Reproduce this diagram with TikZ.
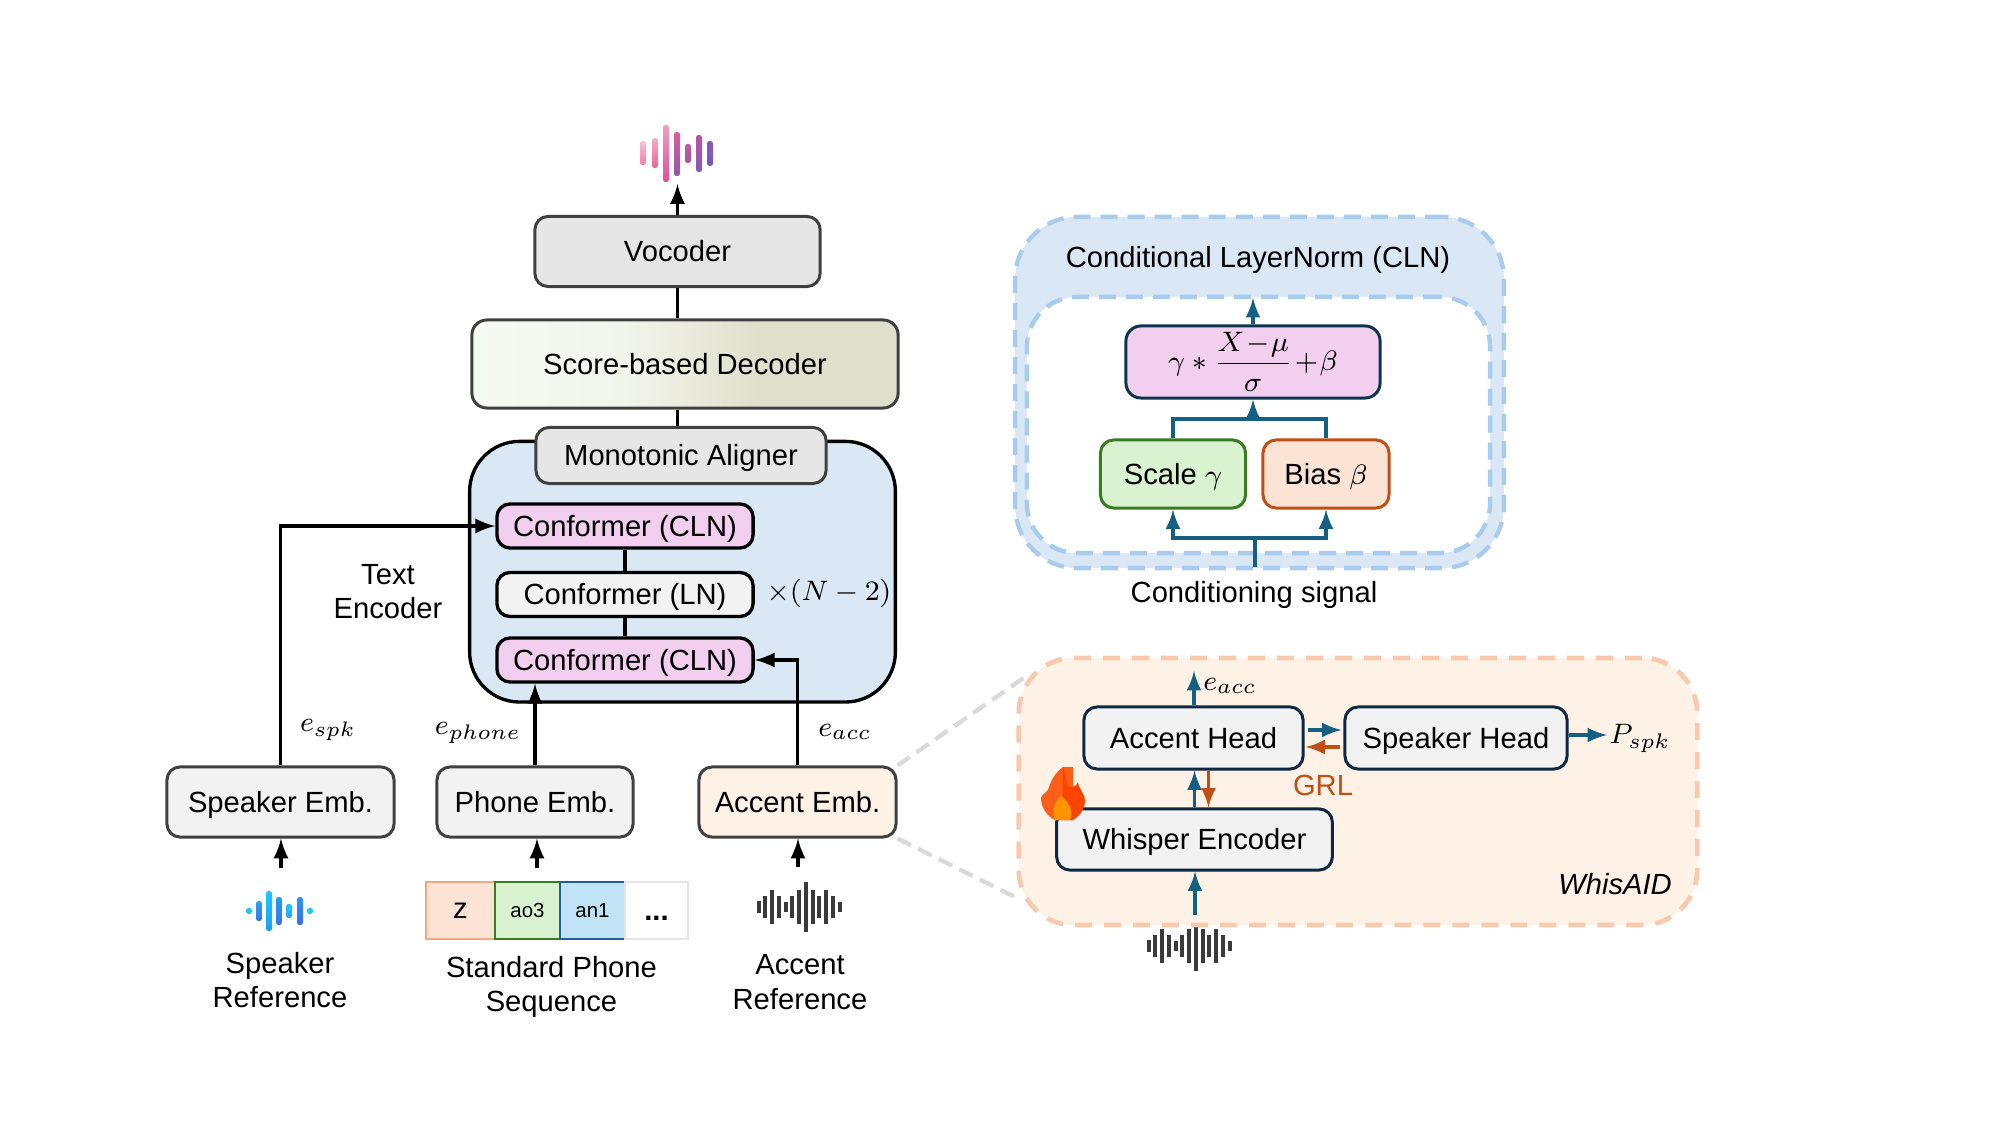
\documentclass[tikz,border=0pt]{standalone}
\usepackage[no-math]{fontspec}
\usepackage{amsmath}
\setmainfont{Liberation Sans}
\usepackage{xcolor}
\usepackage{tikz}
\usetikzlibrary{arrows}
\usetikzlibrary{calc}
\definecolor{panelblue}{HTML}{DAE8F6}
\definecolor{dashblue}{HTML}{A9CCEE}
\definecolor{panelpeach}{HTML}{FEF2E7}
\definecolor{dashpeach}{HTML}{F8C9AE}
\definecolor{pinkfill}{HTML}{F2CEEF}
\definecolor{greyfill}{HTML}{F2F2F2}
\definecolor{midgrey}{HTML}{E6E6E6}
\definecolor{edgegrey}{HTML}{404040}
\definecolor{tealink}{HTML}{156082}
\definecolor{navy}{HTML}{0E2841}
\definecolor{greenfill}{HTML}{D9F2D0}
\definecolor{greenedge}{HTML}{3A7C22}
\definecolor{orangefill}{HTML}{FBE3D6}
\definecolor{orangeedge}{HTML}{C04F15}
\definecolor{zedge}{HTML}{F1A983}
\definecolor{bluefill}{HTML}{C0E4F5}
\definecolor{blueedge}{HTML}{215F9A}
\definecolor{waveink}{HTML}{3A3A3A}
\definecolor{decleft}{HTML}{F5FAF3}
\definecolor{decmid}{HTML}{F2F5EC}
\definecolor{decright}{HTML}{E0DFCB}
\pgfdeclarehorizontalshading{decodershade}{100bp}{color(0bp)=(decleft);color(25bp)=(decleft);color(43bp)=(decmid);color(59bp)=(decright);color(100bp)=(decright)}
\tikzset{
  base/.style={font=\fontsize{8.3}{9.8}\selectfont},
  boxnode/.style={base,draw=edgegrey,line width=0.85pt,rounded corners=0.13cm,inner sep=0pt,fill=greyfill,text height=5.9pt,text depth=0pt},
  confnode/.style={boxnode,draw=black,line width=0.95pt,minimum width=2.56cm,minimum height=0.44cm},
  embnode/.style={boxnode,minimum height=0.70cm},
  headnode/.style={boxnode,draw=navy,minimum height=0.62cm},
  clnnode/.style={boxnode,minimum height=0.68cm},
  seqnode/.style={draw,line width=0.6pt,inner sep=0pt,minimum height=0.57cm,text height=4.2pt,text depth=0pt,font=\fontsize{5.8}{7}\selectfont},
  textnode/.style={base,inner sep=0pt,align=center},
  flow/.style={black,line width=0.95pt,-latex},
  plainflow/.style={black,line width=0.95pt},
  tealflow/.style={tealink,line width=0.9pt,-latex},
  tealline/.style={tealink,line width=0.9pt},
  grlflow/.style={orangeedge,line width=0.9pt,-latex},
  zoomline/.style={draw=black!15,line width=1.2pt,dash pattern=on 0.15cm off 0.08cm},
  bluedash/.style={draw=dashblue,line width=1.25pt,dash pattern=on 0.17cm off 0.10cm},
}
% 13 bars of the grey sound wave, centred on (#1,#2)
\newcommand{\greywave}[2]{
\foreach \dx/\hh in {-47/6,-41/11,-34/17,-27/11,-20/5,-14/11,-7/17,0/25,7/17,13/11,20/17,27/11,34/5}
    \draw[waveink,line width=1pt] (#1+\dx,#2-\hh) -- (#1+\dx,#2+\hh);
}
\begin{document}
\begin{tikzpicture}[x=0.01cm,y=-0.01cm]
\useasboundingbox (0,0) rectangle (2000,1125);

% zoom lines go under the panel
\node[embnode,fill=panelpeach,minimum width=1.97cm] (accemb) at (797.5,802) {Accent Emb.};
\coordinate (zoomtop) at (1028,675);
\coordinate (zoombot) at (1019,899);
\draw[zoomline] (accemb.north east) -- (zoomtop);
\draw[zoomline] (accemb.south east) -- (zoombot);

% text encoder
\node[draw=black,line width=0.95pt,fill=panelblue,rounded corners=0.5cm,minimum width=4.255cm,minimum height=2.605cm] (textenc) at (682.5,571.7) {};
\node[boxnode,fill=midgrey,minimum width=2.85cm,minimum height=0.70cm] (vocoder) at (677.5,251.5) {Vocoder};
\node[boxnode,shading=decodershade,minimum width=4.26cm,minimum height=0.88cm,rounded corners=0.15cm] (decoder) at (685,364) {Score-based Decoder};
\node[boxnode,fill=midgrey,minimum width=2.90cm,minimum height=0.56cm] (aligner) at (681,455.5) {Monotonic Aligner};
\node[confnode,fill=pinkfill] (confa) at (625,526) {Conformer (CLN)};
\node[confnode] (confb) at (625,594.5) {Conformer (LN)};
\node[confnode,fill=pinkfill] (confc) at (625,660) {Conformer (CLN)};
\node[textnode] (textlab) at (388,591.5) {Text\\Encoder};
\node[textnode] (repeatlab) at (829,593) {$\times(N-2)$};

\node[embnode,minimum width=2.27cm] (spkemb) at (280.5,802) {Speaker Emb.};
\node[embnode,minimum width=1.96cm] (phoneemb) at (535,802) {Phone Emb.};
\node[textnode] (espk) at (328,730) {$e_{spk}$};
\node[textnode] (ephone) at (478,733) {$e_{phone}$};
\node[textnode] (eacc) at (845,732) {$e_{acc}$};

\coordinate (outwave) at (677.5,184);
\coordinate (spkin) at (281,868);
\coordinate (phonein) at (537,868);
\coordinate (accin) at (798,867);
\draw[flow] (vocoder.north) -- (outwave);
\draw[plainflow] (vocoder.south) -- (vocoder.south |- decoder.north);
\draw[plainflow] (vocoder.south |- decoder.south) -- (vocoder.south |- aligner.north);
\draw[plainflow] (confa.south) -- (confb.north);
\draw[plainflow] (confb.south) -- (confc.north);
\draw[flow] (spkemb.north) |- (confa.west);
\draw[flow] (phoneemb.north) -- (confc.south -| phoneemb.north);
\draw[flow] (accemb.north) |- (confc.east);
\draw[flow] (spkin) -- (spkin |- spkemb.south);
\draw[flow] (phonein) -- (phonein |- phoneemb.south);
\draw[flow] (accin) -- (accin |- accemb.south);

% phone sequence
\node[seqnode,draw=zedge,fill=orangefill,minimum width=0.695cm,text height=4.4pt,font=\fontsize{8.3}{10}\selectfont] (seqz) at (460.5,910.5) {z};
\node[seqnode,draw=greenedge,fill=greenfill,minimum width=0.65cm] (seqa) at (527.5,910.5) {ao3};
\node[seqnode,draw=blueedge,fill=bluefill,minimum width=0.65cm] (seqb) at (592.5,910.5) {an1};
\node[seqnode,draw=black!10,minimum width=0.63cm,text height=5.9pt,font=\fontsize{8.3}{10}\selectfont\bfseries] (seqc) at (656.5,910.5) {...};

\node[textnode] (spkref) at (280,980) {Speaker\\Reference};
\node[textnode] (seqlab) at (551.5,987) {Standard Phone\\Sequence};
\node[textnode] (accref) at (800,982) {Accent\\Reference};

% sound waves
\foreach \xx/\ya/\yb/\ca/\cb in {643/144/162/F4C6D6/EE7FA8,655/141/165/F2AFC6/E8659A,666/128/179/EFA0BE/DE4F9C,677/135/173/DE5C96/8C5CA8,688/147/160/C05A9C/A058A8,699/138/169/B855A0/7F5CB4,710/144/163/8E58B4/7258C4}{
    \definecolor{wavetop}{HTML}{\ca}
    \definecolor{wavebot}{HTML}{\cb}
    \shade[top color=wavetop,bottom color=wavebot,rounded corners=0.025cm] (\xx-3,\ya-3) rectangle (\xx+3,\yb+3);
}
\foreach \xx/\hh/\ca/\cb in {249/1/1EC4FA/1EC4FA,259/8/2AA5F0/3B6FE6,269/18/1CC8FF/1E9CF0,279/12/22A0F0/3B6FE6,289/5/1EC4FA/2AA5F0,300/12/2A95F0/3B6FE6,310/1/1EC4FA/1EC4FA}{
    \definecolor{wavetop}{HTML}{\ca}
    \definecolor{wavebot}{HTML}{\cb}
    \shade[top color=wavetop,bottom color=wavebot,rounded corners=0.025cm] (\xx-3,911-\hh-2) rectangle (\xx+3,911+\hh+2);
}
\greywave{806}{907}
\greywave{1196}{946}

% conditional layernorm
\node[bluedash,fill=panelblue,rounded corners=0.62cm,minimum width=4.885cm,minimum height=3.51cm] (clnpanel) at (1259.5,392.5) {};
\node[bluedash,fill=white,rounded corners=0.5cm,minimum width=4.63cm,minimum height=2.56cm] (clninner) at (1258.5,425) {};
\node[textnode] (clnlab) at (1258,260) {Conditional LayerNorm (CLN)};
\node[clnnode,draw=navy!80!tealink,fill=pinkfill,text height={},text depth={},minimum width=2.54cm,minimum height=0.72cm,rounded corners=0.15cm] (formula) at (1253,362) {\raisebox{-1pt}{$\gamma * \dfrac{X\!-\!\mu}{\sigma} \!+\! \beta$}};
\node[clnnode,draw=greenedge,fill=greenfill,minimum width=1.45cm] (scalebox) at (1173,474) {Scale $\gamma$};
\node[clnnode,draw=orangeedge,fill=orangefill,minimum width=1.26cm] (biasbox) at (1326,474) {Bias $\beta$};
\node[textnode] (condlab) at (1254,595) {Conditioning signal};

\coordinate (clnout) at (1253,298);
\coordinate (mixup) at (1253,419);
\coordinate (condin) at (1255,567);
\coordinate (condmid) at (1255,538);
\draw[tealflow] (formula.north) -- (clnout);
\draw[tealline] (scalebox.north) |- (mixup);
\draw[tealline] (biasbox.north) |- (mixup);
\draw[tealflow] (mixup) -- (formula.south);
\draw[tealline] (condin) -- (condmid);
\draw[tealflow] (condmid) -| (scalebox.south);
\draw[tealflow] (condmid) -| (biasbox.south);

% whisaid
\node[draw=dashpeach,line width=1.35pt,fill=panelpeach,rounded corners=0.55cm,dash pattern=on 0.17cm off 0.12cm,minimum width=6.78cm,minimum height=2.67cm] (whispanel) at (1358,791.5) {};
\node[headnode,minimum width=2.19cm] (acchead) at (1193.5,738) {Accent Head};
\node[headnode,minimum width=2.22cm] (spkhead) at (1456,738) {Speaker Head};
\node[headnode,minimum width=2.755cm,minimum height=0.61cm] (whisper) at (1194.5,839.5) {Whisper Encoder};
\node[textnode] (eacclab) at (1230,686) {$e_{acc}$};
\node[textnode] (psk) at (1640,738) {$P_{spk}$};
\node[textnode,text=orangeedge] (grl) at (1323,785) {GRL};
\node[textnode,font=\fontsize{8.3}{10}\selectfont\itshape] (whislab) at (1615,884) {WhisAID};

\coordinate (headout) at (1194,671);
\coordinate (whisin) at (1195,915);
\coordinate (rightout) at (1607,735);
\draw[tealflow] (acchead.north -| headout) -- (headout);
\draw[tealflow] (whisin) -- (whisin |- whisper.south);
\draw[tealflow] ($(acchead.east)+(3,-8)$) -- ($(spkhead.west)+(-2,-8)$);
\draw[grlflow] ($(spkhead.west)+(-3,9)$) -- ($(acchead.east)+(1,9)$);
\draw[tealflow] (spkhead.east |- rightout) -- (rightout);
\draw[tealflow] (whisper.north) -- (whisper.north |- acchead.south);
\draw[grlflow] ($(acchead.south)+(15,0)$) -- ($(acchead.south |- whisper.north)+(15,0)$);

% flame on the whisper box
\fill[orange!60!red!90!white] (1063,767) .. controls (1052,775) and (1050,785) .. (1048,790) .. controls (1044,794) and (1041,796) .. (1041,798) .. controls (1041,808) and (1048,817) .. (1055,820) -- (1073,820) -- (1073,767) -- cycle;
\fill[red!55!orange!95!yellow] (1063,767) .. controls (1066,775) and (1066,782) .. (1067,786) .. controls (1073,788) and (1076,787) .. (1078,782) .. controls (1079,790) and (1085,794) .. (1085,800) .. controls (1085,808) and (1080,816) .. (1073,820) -- (1062,820) -- cycle;
\fill[orange!85!yellow] (1061,796) .. controls (1066,800) and (1070,804) .. (1071,810) .. controls (1072,814) and (1071,817) .. (1070,820) -- (1055,820) .. controls (1051,812) and (1054,802) .. (1061,796) -- cycle;
\end{tikzpicture}
\end{document}
